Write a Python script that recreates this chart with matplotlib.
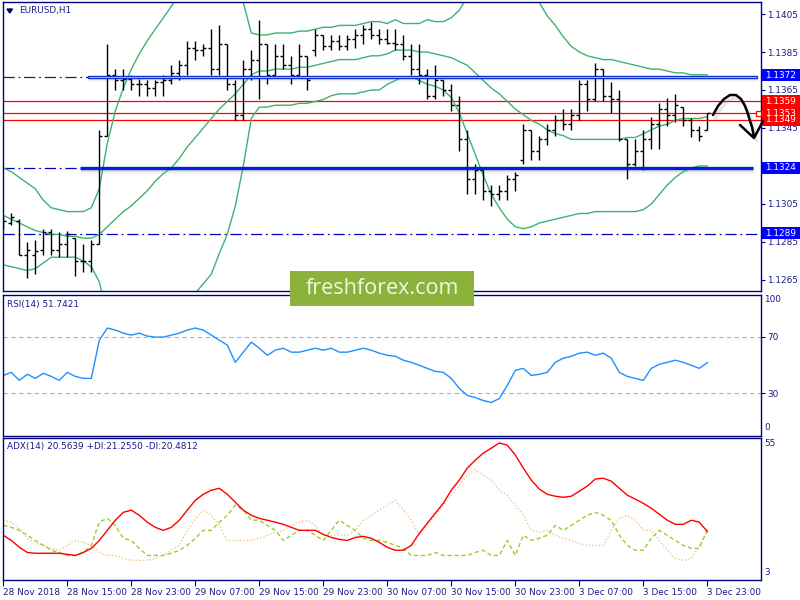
import matplotlib
matplotlib.use("Agg")
import matplotlib.pyplot as plt
from matplotlib.patches import Rectangle

W, H = 800, 600
NAVY = "#000080"
TXT = "#1a1a8a"
FONT = "DejaVu Sans"
FS = 6.4

# ---------------- data ----------------
tick_labels = ["28 Nov 2018", "28 Nov 15:00", "28 Nov 23:00", "29 Nov 07:00",
               "29 Nov 15:00", "29 Nov 23:00", "30 Nov 07:00", "30 Nov 15:00",
               "30 Nov 23:00", "3 Dec 07:00", "3 Dec 15:00", "3 Dec 23:00"]

opens = [1.1295, 1.1295, 1.1296, 1.1278, 1.1278, 1.1281, 1.1290, 1.1281, 1.1284, 1.1287,
         1.1275, 1.1275, 1.1284, 1.1341, 1.1373, 1.1370, 1.1371, 1.1368, 1.1368, 1.1366,
         1.1369, 1.1370, 1.1374, 1.1378, 1.1387, 1.1386, 1.1387, 1.1376, 1.1389, 1.1368,
         1.1352, 1.1376, 1.1381, 1.1389, 1.1373, 1.1383, 1.1378, 1.1373, 1.1383, 1.1386,
         1.1394, 1.1388, 1.1391, 1.1388, 1.1392, 1.1394, 1.1397, 1.1394, 1.1392, 1.1390,
         1.1389, 1.1383, 1.1376, 1.1373, 1.1362, 1.1370, 1.1365, 1.1357, 1.1339, 1.1318,
         1.1323, 1.1312, 1.1310, 1.1312, 1.1318, 1.1328, 1.1344, 1.1333, 1.1339, 1.1344,
         1.1349, 1.1347, 1.1352, 1.1368, 1.1360, 1.1376, 1.1362, 1.1360, 1.1339, 1.1326,
         1.1333, 1.1339, 1.1347, 1.1355, 1.1352, 1.1356, 1.1349, 1.1344, 1.1344]
highs = [1.1298, 1.1300, 1.1297, 1.1285, 1.1286, 1.1292, 1.1292, 1.1290, 1.1291, 1.1287,
         1.1284, 1.1286, 1.1344, 1.1389, 1.1376, 1.1376, 1.1373, 1.1371, 1.1370, 1.1370,
         1.1373, 1.1378, 1.1381, 1.1391, 1.1391, 1.1389, 1.1397, 1.1399, 1.1389, 1.1370,
         1.1381, 1.1386, 1.1402, 1.1389, 1.1389, 1.1389, 1.1383, 1.1389, 1.1383, 1.1397,
         1.1394, 1.1394, 1.1394, 1.1394, 1.1397, 1.1399, 1.1401, 1.1397, 1.1397, 1.1397,
         1.1394, 1.1389, 1.1389, 1.1376, 1.1378, 1.1370, 1.1368, 1.1362, 1.1344, 1.1326,
         1.1323, 1.1315, 1.1315, 1.1320, 1.1322, 1.1347, 1.1344, 1.1341, 1.1347, 1.1352,
         1.1355, 1.1355, 1.1370, 1.1370, 1.1379, 1.1376, 1.1369, 1.1365, 1.1339, 1.1339,
         1.1344, 1.1351, 1.1358, 1.1361, 1.1363, 1.1356, 1.1350, 1.1346, 1.1353]
lows = [1.1292, 1.1294, 1.1278, 1.1266, 1.1268, 1.1278, 1.1278, 1.1277, 1.1277, 1.1267,
        1.1269, 1.1269, 1.1284, 1.1341, 1.1365, 1.1365, 1.1365, 1.1362, 1.1362, 1.1362,
        1.1362, 1.1368, 1.1370, 1.1373, 1.1381, 1.1383, 1.1373, 1.1373, 1.1365, 1.1349,
        1.1349, 1.1370, 1.1360, 1.1368, 1.1373, 1.1376, 1.1368, 1.1373, 1.1365, 1.1383,
        1.1386, 1.1386, 1.1386, 1.1386, 1.1387, 1.1389, 1.1392, 1.1389, 1.1389, 1.1386,
        1.1381, 1.1373, 1.1368, 1.1360, 1.1360, 1.1362, 1.1354, 1.1333, 1.1310, 1.1310,
        1.1307, 1.1304, 1.1307, 1.1307, 1.1312, 1.1326, 1.1328, 1.1328, 1.1336, 1.1341,
        1.1344, 1.1344, 1.1349, 1.1354, 1.1359, 1.1359, 1.1353, 1.1338, 1.1318, 1.1325,
        1.1323, 1.1334, 1.1334, 1.1346, 1.1348, 1.1346, 1.1340, 1.1338, 1.1344]
closes = [1.1296, 1.1298, 1.1278, 1.1281, 1.1280, 1.1290, 1.1281, 1.1284, 1.1289, 1.1275,
          1.1275, 1.1284, 1.1341, 1.1373, 1.1370, 1.1371, 1.1368, 1.1368, 1.1366, 1.1369,
          1.1370, 1.1374, 1.1378, 1.1387, 1.1386, 1.1387, 1.1376, 1.1389, 1.1368, 1.1352,
          1.1376, 1.1381, 1.1389, 1.1373, 1.1383, 1.1378, 1.1373, 1.1383, 1.1370, 1.1394,
          1.1388, 1.1391, 1.1388, 1.1392, 1.1394, 1.1397, 1.1394, 1.1392, 1.1390, 1.1389,
          1.1383, 1.1376, 1.1373, 1.1362, 1.1370, 1.1365, 1.1357, 1.1339, 1.1318, 1.1323,
          1.1312, 1.1310, 1.1312, 1.1318, 1.1320, 1.1344, 1.1333, 1.1339, 1.1344, 1.1349,
          1.1347, 1.1352, 1.1368, 1.1360, 1.1376, 1.1362, 1.1360, 1.1339, 1.1326, 1.1333,
          1.1339, 1.1347, 1.1355, 1.1352, 1.1357, 1.1349, 1.1344, 1.1341, 1.1353]

bb_upper = [1.1324, 1.1322, 1.1319, 1.1316, 1.1313, 1.1307, 1.1303, 1.1302, 1.1301, 1.1301,
            1.1301, 1.1303, 1.1313,
            1.1337, 1.1354, 1.1366, 1.1376, 1.1384, 1.1391, 1.1397, 1.1403, 1.1409, 1.1415,
            1.1421, 1.1425, 1.1428, 1.1430, 1.1430, 1.1428, 1.1421, 1.1411, 1.1395, 1.1394,
            1.1394, 1.1395, 1.1395, 1.1395, 1.1396, 1.1396, 1.1397, 1.1398, 1.1398, 1.1399,
            1.1399, 1.1399, 1.1400, 1.1401, 1.1401, 1.1400, 1.1402, 1.1400, 1.1400, 1.1400,
            1.1402, 1.1401, 1.1401, 1.1403, 1.1407, 1.1414, 1.1417, 1.1420, 1.1422, 1.1423,
            1.1428, 1.1426, 1.1422, 1.1417, 1.1411, 1.1404, 1.1399, 1.1393, 1.1388, 1.1385,
            1.1383, 1.1382, 1.1381, 1.1381, 1.1380, 1.1379, 1.1378, 1.1377, 1.1376, 1.1376,
            1.1375, 1.1374, 1.1374, 1.1373, 1.1373, 1.1373]
bb_middle = [1.1299, 1.1297, 1.1295, 1.1293, 1.1291, 1.1290, 1.1289, 1.1289, 1.1288, 1.1288,
             1.1287, 1.1287, 1.1289,
             1.1293, 1.1297, 1.1301, 1.1304, 1.1308, 1.1312, 1.1317, 1.1321, 1.1324, 1.1329,
             1.1335, 1.1340, 1.1345, 1.1350, 1.1355, 1.1359, 1.1363, 1.1368, 1.1373, 1.1375,
             1.1375, 1.1376, 1.1376, 1.1376, 1.1377, 1.1377, 1.1378, 1.1379, 1.1380, 1.1381,
             1.1381, 1.1381, 1.1382, 1.1383, 1.1383, 1.1384, 1.1386, 1.1386, 1.1386, 1.1385,
             1.1385, 1.1384, 1.1383, 1.1382, 1.1380, 1.1378, 1.1374, 1.1370, 1.1366, 1.1363,
             1.1359, 1.1355, 1.1352, 1.1349, 1.1347, 1.1344, 1.1342, 1.1341, 1.1339, 1.1339,
             1.1339, 1.1339, 1.1339, 1.1339, 1.1339, 1.1340, 1.1340, 1.1342, 1.1344, 1.1346,
             1.1347, 1.1349, 1.1350, 1.1350, 1.1350, 1.1351]
bb_lower = [1.1273, 1.1272, 1.1271, 1.1270, 1.1271, 1.1274, 1.1277, 1.1277, 1.1277, 1.1277,
            1.1275, 1.1272, 1.1264,
            1.1247, 1.1242, 1.1238, 1.1237, 1.1237, 1.1237, 1.1240, 1.1242, 1.1245, 1.1249,
            1.1253, 1.1258, 1.1263, 1.1268, 1.1279, 1.1289, 1.1304, 1.1325, 1.1350, 1.1356,
            1.1356, 1.1357, 1.1357, 1.1357, 1.1358, 1.1358, 1.1359, 1.1360, 1.1362, 1.1363,
            1.1363, 1.1363, 1.1364, 1.1365, 1.1365, 1.1368, 1.1370, 1.1372, 1.1372, 1.1370,
            1.1368, 1.1367, 1.1365, 1.1361, 1.1353, 1.1342, 1.1331, 1.1320, 1.1310, 1.1303,
            1.1297, 1.1293, 1.1292, 1.1293, 1.1295, 1.1296, 1.1297, 1.1298, 1.1299, 1.1300,
            1.1300, 1.1301, 1.1301, 1.1301, 1.1301, 1.1301, 1.1301, 1.1302, 1.1305, 1.1310,
            1.1315, 1.1319, 1.1322, 1.1324, 1.1325, 1.1325]

rsi = [42.6, 44.8, 39.1, 43.4, 40.5, 44.1, 41.9, 39.1, 44.8, 41.9,
       40.5, 40.5, 67.6, 76.2, 74.8, 72.6, 71.2, 72.6, 70.5, 69.8,
       69.8, 71.2, 72.6, 74.8, 76.2, 74.8, 71.2, 67.6, 64.1, 51.9,
       59.1, 66.2, 61.9, 56.9, 60.5, 61.9, 59.1, 59.1, 60.5, 61.9,
       60.5, 61.9, 59.1, 59.1, 60.5, 61.9, 60.5, 58.4, 56.9, 56.2,
       53.4, 51.9, 49.8, 47.6, 45.5, 44.8, 40.5, 33.4, 28.4, 26.9,
       24.8, 23.4, 26.2, 35.5, 46.2, 47.6, 42.6, 43.4, 44.8, 51.9,
       54.8, 56.2, 58.4, 59.1, 56.9, 58.4, 54.8, 44.8, 41.9, 40.5,
       39.1, 47.6, 50.5, 51.9, 53.4, 51.9, 49.8, 47.6, 51.7421]

adx = [19.2, 17.3, 14.8, 12.9, 12.6, 12.6, 12.6, 12.6, 12.2, 11.8,
       12.9, 14.4, 17.3, 21.0, 24.7, 27.6, 28.4, 26.5, 24.0, 22.1,
       21.0, 22.1, 24.7, 28.4, 32.0, 34.2, 35.7, 36.4, 34.2, 31.3,
       28.4, 26.5, 25.4, 24.7, 24.0, 23.2, 22.1, 21.0, 21.0, 21.0,
       19.5, 18.4, 17.7, 17.3, 18.4, 18.8, 18.1, 16.6, 14.8, 13.7,
       13.7, 15.5, 19.9, 23.6, 27.3, 30.9, 35.7, 39.4, 43.8, 46.7,
       49.3, 51.1, 53.0, 52.2, 48.6, 43.8, 39.4, 36.1, 34.2, 33.5,
       33.1, 33.5, 35.3, 37.2, 39.8, 40.1, 39.0, 36.4, 33.9, 32.4,
       30.9, 29.1, 26.9, 24.7, 23.2, 23.2, 24.7, 24.0, 20.5639]
plus_di = [22.8, 22.1, 21.0, 19.2, 17.3, 15.5, 13.7, 12.9, 11.8, 11.8, 12.9, 15.5,
           24.0, 25.4, 22.8, 18.1, 17.3, 14.4, 11.8, 11.8, 11.8,
           12.6, 13.7, 15.5, 18.1, 21.0, 21.0, 24.0, 26.5, 30.2, 28.4,
           24.7, 24.7, 22.8, 21.0, 17.3, 19.2, 21.0, 21.0, 19.2, 17.3,
           21.0, 24.7, 22.8, 21.0, 18.1, 17.3, 17.3, 16.6, 15.5, 14.4,
           11.8, 11.8, 11.8, 12.9, 11.8, 11.8, 11.8, 11.8, 12.9, 13.7,
           11.8, 11.8, 17.3, 11.8, 19.2, 17.3, 18.1, 19.2, 22.8, 21.0,
           22.8, 24.7, 26.5, 27.6, 26.5, 24.7, 19.2, 15.5, 13.7, 13.7,
           18.1, 21.0, 19.2, 17.3, 15.5, 14.4, 14.4, 21.2550]
minus_di = [24.7, 24.0, 21.7, 18.1, 16.2, 15.5, 14.4, 13.7, 15.5, 17.3, 16.6, 15.5,
            12.9, 11.8, 11.8, 10.7, 10.0, 10.0, 10.0, 10.7, 11.8,
            13.7, 15.5, 21.0, 25.4, 28.4, 26.5, 22.8, 17.3, 17.3, 17.3,
            17.3, 18.1, 19.2, 20.3, 21.0, 22.8, 24.0, 24.7, 22.8, 19.2,
            19.2, 19.2, 19.2, 21.0, 24.7, 26.5, 28.4, 30.2, 32.0, 28.4,
            24.7, 19.2, 22.8, 26.5, 30.2, 33.9, 37.5, 41.2, 43.1, 41.2,
            39.4, 35.7, 33.9, 30.2, 26.5, 21.0, 20.3, 21.0, 19.2, 18.1,
            17.3, 16.2, 15.5, 15.5, 15.5, 21.0, 25.4, 26.5, 24.7, 21.0,
            21.0, 17.3, 13.7, 10.7, 10.0, 10.7, 15.5, 20.4812]

price_ticks = [1.1405, 1.1385, 1.1365, 1.1345, 1.1305, 1.1285, 1.1265]
level_top = 1.1372
level_bottom = 1.1324
level_low = 1.1289
red_levels = [1.1359, 1.1353, 1.1349]

# ---------------- figure ----------------
fig = plt.figure(figsize=(8, 6), dpi=100)
fig.patch.set_facecolor("white")


def rect(l, t, r, b):
    return [l / W, 1 - b / H, (r - l) / W, (b - t) / H]


def ftext(x, y, s, **kw):
    fig.text(x / W, 1 - y / H, s, **kw)


ax1 = fig.add_axes(rect(2.5, 1.5, 760.5, 290.5))
ax2 = fig.add_axes(rect(2.5, 294.5, 760.5, 435.5))
ax3 = fig.add_axes(rect(2.5, 437.5, 760.5, 579.5))

X0, X1 = -0.1, 94.65
for ax in (ax1, ax2, ax3):
    ax.set_xlim(X0, X1)
    ax.set_xticks([])
    for s in ax.spines.values():
        s.set_color(NAVY)
        s.set_linewidth(1.0)
    ax.yaxis.tick_right()
    ax.tick_params(axis="y", direction="out", length=3, width=0.8, color=NAVY,
                   labelcolor=TXT, labelsize=FS, pad=2)

# ---- main price panel ----
ax1.set_ylim(1.125947, 1.141158)
ax1.set_yticks(price_ticks)
ax1.set_yticklabels([f"{v:.4f}" for v in price_ticks], fontfamily=FONT)

n = len(closes)
xs = list(range(n))

# Bollinger bands
for band in (bb_upper, bb_middle, bb_lower):
    ax1.plot(xs, band, color="#3cb371", lw=1.0, zorder=2.5)

tk = 0.38
for i in xs:
    ax1.plot([i, i], [lows[i], highs[i]], color="black", lw=1.0, solid_capstyle="butt", zorder=3)
    ax1.plot([i - tk, i], [opens[i], opens[i]], color="black", lw=1.0, solid_capstyle="butt", zorder=3)
    ax1.plot([i, i + tk], [closes[i], closes[i]], color="black", lw=1.0, solid_capstyle="butt", zorder=3)

# red horizontal levels
for lv in red_levels:
    ax1.axhline(lv, color="#ff0000", lw=0.9, zorder=2)

# dash-dot levels
dd = (0, (9, 3, 1.5, 3))
ax1.plot([X0, 10.6], [level_top, level_top], color="#202060", lw=0.9, linestyle=dd, zorder=2)
ax1.plot([X0, 9.6], [level_bottom, level_bottom], color="#0000c0", lw=0.9, linestyle=dd, zorder=2)
ax1.axhline(level_low, color="#0000c0", lw=0.9, linestyle=dd, zorder=2)

# shadows of the drawn levels
for k, a in enumerate([0.18, 0.12, 0.07, 0.04]):
    off = (k + 1.5) * 0.0000526
    ax1.plot([10.8, 94.2], [level_top - off, level_top - off], color="gray", lw=1.6, alpha=a, zorder=1)
    ax1.plot([9.8, 93.7], [level_bottom - off - 0.00004, level_bottom - off - 0.00004],
             color="gray", lw=1.6, alpha=a, zorder=1)
# double line at 1.1372
ax1.add_patch(Rectangle((10.6, level_top - 0.00006), 94.2 - 10.6, 0.00011,
                        facecolor="white", edgecolor="#1030d0", lw=1.0, zorder=4))
# thick line at 1.1324
ax1.plot([9.6, 93.7], [level_bottom, level_bottom], color="#0020e0", lw=2.4,
         solid_capstyle="butt", zorder=4)

# ---- RSI panel ----
ax2.set_ylim(0, 100)
ax2.set_yticks([70, 30])
ax2.set_yticklabels(["70", "30"], fontfamily=FONT)
for lv in (70, 30):
    ax2.axhline(lv, color="#b4b4b4", lw=0.8, linestyle=(0, (4, 3)))
ax2.plot(xs, rsi, color="#1e90ff", lw=1.0)

# ---- ADX panel ----
ax3.set_ylim(3, 55)
ax3.set_yticks([])
ax3.plot(xs, minus_di, color="#f2c48a", lw=1.0, linestyle=(0, (1, 1.5)))
ax3.plot(xs, plus_di, color="#9acd32", lw=1.0, linestyle=(0, (3, 2)))
ax3.plot(xs, adx, color="#ff0000", lw=1.0)
ax3.set_xticks(range(0, 89, 8))
ax3.set_xticklabels(tick_labels, fontfamily=FONT, fontsize=FS, color=TXT, ha="left")
ax3.tick_params(axis="x", direction="out", length=4, width=0.8, color=NAVY, pad=2)

# right-side texts for RSI / ADX extremes
ftext(764, 299.5, "100", fontsize=FS, color=TXT, fontfamily=FONT, va="center")
ftext(764, 428, "0", fontsize=FS, color=TXT, fontfamily=FONT, va="center")
ftext(764, 444, "55", fontsize=FS, color=TXT, fontfamily=FONT, va="center")
ftext(764, 572.5, "3", fontsize=FS, color=TXT, fontfamily=FONT, va="center")

# titles
ftext(19, 11, "EURUSD,H1", fontsize=FS, color=TXT, fontfamily=FONT, va="center")
fig.patches.append(plt.Polygon([[7 / W, 1 - 9 / H], [12.5 / W, 1 - 9 / H], [9.75 / W, 1 - 13 / H]],
                               closed=True, transform=fig.transFigure, facecolor=NAVY,
                               edgecolor=NAVY, figure=fig))
ftext(7, 305, "RSI(14) 51.7421", fontsize=FS, color=TXT, fontfamily=FONT, va="center")
ftext(7, 446, "ADX(14) 20.5639 +DI:21.2550 -DI:20.4812", fontsize=FS, color=TXT,
      fontfamily=FONT, va="center")


# price label boxes on the right
def price_box(y, s, color):
    fig.patches.append(Rectangle((762 / W, 1 - (y + 6) / H), 38 / W, 12 / H,
                                 transform=fig.transFigure, facecolor=color,
                                 edgecolor="none", figure=fig, zorder=5))
    ftext(765, y, s, fontsize=FS, color="white", fontfamily=FONT, va="center", zorder=6)


price_box(75, "1.1372", "#0000ff")
price_box(101, "1.1359", "#ff0000")
price_box(119.5, "1.1349", "#ff0000")
price_box(113, "1.1353", "#ff0000")
price_box(168, "1.1324", "#0000ff")
price_box(233, "1.1289", "#0000ff")

# current price marker square
fig.patches.append(Rectangle((755.5 / W, 1 - 115.5 / H), 5 / W, 5 / H, transform=fig.transFigure,
                             facecolor="white", edgecolor="#ff0000", lw=0.9, figure=fig, zorder=6))

# hand drawn arrow (figure pixel path)
arrow_x = [713, 718, 724, 730, 736, 741, 745, 748, 750, 752, 753, 754]
arrow_y = [115, 106, 99, 95, 95, 99, 106, 114, 121, 127, 132, 137]
for k, a in enumerate([0.15, 0.08]):
    fig.lines.append(plt.Line2D([(x + 2 + k) / W for x in arrow_x], [1 - (y + 3 + k) / H for y in arrow_y],
                                transform=fig.transFigure, color="gray", lw=2.2, alpha=a, figure=fig))
fig.lines.append(plt.Line2D([x / W for x in arrow_x], [1 - y / H for y in arrow_y],
                            transform=fig.transFigure, color="black", lw=1.8, figure=fig,
                            solid_capstyle="round", zorder=7))
fig.lines.append(plt.Line2D([740 / W, 754 / W, 763 / W], [1 - 125 / H, 1 - 138 / H, 1 - 121 / H],
                            transform=fig.transFigure, color="black", lw=1.8, figure=fig,
                            solid_capstyle="round", zorder=7))

# logo
fig.patches.append(Rectangle((290 / W, 1 - 306 / H), 184 / W, 35 / H, transform=fig.transFigure,
                             facecolor="#8bb33b", edgecolor="none", figure=fig, zorder=8))
ftext(382, 288.5, "freshforex.com", fontsize=15.5, color="#f2f7e4", fontfamily="Open Sans",
      ha="center", va="center", zorder=9)

fig.savefig("out.png", dpi=100)
